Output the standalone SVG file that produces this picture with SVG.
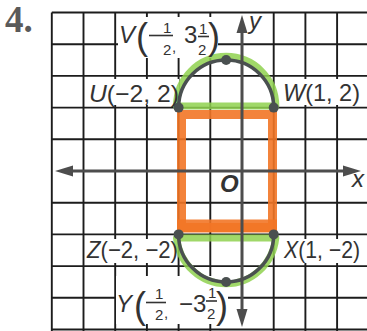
<svg xmlns="http://www.w3.org/2000/svg" width="367" height="331" viewBox="0 0 367 331">
<style>
.grid{stroke:#1c1c1c;stroke-width:1.9;fill:none}
.box{fill:#fff}
.lbl{font-family:"Liberation Sans",Arial,sans-serif;font-size:24px;fill:#333}
.it{font-style:italic}
.fr{font-family:"Liberation Sans",Arial,sans-serif;font-size:15px;fill:#333}
.bar{stroke:#333;stroke-width:1.6}
.paren{font-family:"Liberation Sans",Arial,sans-serif;font-size:36px;fill:#333}
.axis{stroke:#4d4d4d;stroke-width:3;fill:none}
.arrow{fill:#4d4d4d}
.green{stroke:#8fd14f;stroke-width:7;fill:none;opacity:0.85;stroke-linejoin:round}
.orange{stroke:#f27526;fill:none;opacity:0.9}
.arc{stroke:#4a5050;stroke-width:3.5;fill:none}
.dot{fill:#4a5050}
.title{font-family:"Liberation Serif","DejaVu Serif",serif;font-weight:bold;font-size:37px;fill:#5a5a5a}
</style>
<rect width="367" height="331" fill="#fff"/>
<g id="title"><text class="title" x="5" y="32">4.</text></g>
<g id="grid">
<path class="grid" d="M51.8 12.5V331M83.5 12.5V331M115.2 12.5V331M146.9 12.5V331M178.6 12.5V331M210.3 12.5V331M273.7 12.5V331M305.4 12.5V331M337.1 12.5V331"/>
<path class="grid" d="M51.8 12.5H367M51.8 44.2H367M51.8 75.9H367M51.8 107.6H367M51.8 139.3H367M51.8 202.7H367M51.8 234.4H367M51.8 266.1H367M51.8 297.8H367M51.8 329.5H367"/>
</g>
<g id="label-boxes">
<rect class="box" x="118" y="17" width="100" height="41"/>
<rect class="box" x="86" y="79" width="93" height="26"/>
<rect class="box" x="280" y="79" width="83" height="26"/>
<rect class="box" x="85" y="239" width="92" height="24"/>
<rect class="box" x="282" y="239" width="82" height="24"/>
<rect class="box" x="116" y="276" width="112" height="48"/>
</g>
<g id="rectangle">
<rect class="orange" x="181.5" y="114.5" width="91" height="113" stroke-width="9"/>
<line class="orange" x1="177" y1="226" x2="277" y2="226" stroke-width="13"/>
</g>
<g id="semicircles">
<path class="green" d="M176.5 106 A49.5 49.5 0 0 1 275.8 106 Z"/>
<path class="green" d="M176.5 238 A50 52 0 0 0 275.8 238 Z"/>
<path class="arc" d="M178.6 107.6 A47.55 47.55 0 0 1 273.7 107.6"/>
<path class="arc" d="M178.6 234.4 A47.55 47.55 0 0 0 273.7 234.4"/>
</g>
<g id="connectors">
<line class="axis" x1="68" y1="171" x2="348" y2="171"/>
<polygon class="arrow" points="55,171 73,165.5 73,176.5"/>
<polygon class="arrow" points="361,171 343,165.5 343,176.5"/>
<line class="axis" x1="242" y1="28" x2="242" y2="314"/>
<polygon class="arrow" points="242,15 236.5,33 247.5,33"/>
<polygon class="arrow" points="242,327 236.5,309 247.5,309"/>
<text x="249" y="29" class="lbl it" font-size="22">y</text>
<text x="352" y="187" class="lbl it" font-size="20">x</text>
<text x="220" y="192" class="lbl it" font-size="17" font-weight="bold">O</text>
</g>
<g id="U"><circle class="dot" cx="178.6" cy="107.6" r="5"/>
<text class="lbl" x="89" y="102" textLength="90" lengthAdjust="spacingAndGlyphs"><tspan class="it">U</tspan>(−2, 2)</text></g>
<g id="W"><circle class="dot" cx="273.7" cy="107.6" r="5"/>
<text class="lbl" x="283" y="101" textLength="77" lengthAdjust="spacingAndGlyphs"><tspan class="it">W</tspan>(1, 2)</text></g>
<g id="Z"><circle class="dot" cx="178.6" cy="234.4" r="5"/>
<text class="lbl" x="87" y="258" textLength="91" lengthAdjust="spacingAndGlyphs"><tspan class="it">Z</tspan>(−2, −2)</text></g>
<g id="X"><circle class="dot" cx="273.7" cy="234.4" r="5"/>
<text class="lbl" x="284" y="258" textLength="76" lengthAdjust="spacingAndGlyphs"><tspan class="it">X</tspan>(1, −2)</text></g>
<g id="V"><circle class="dot" cx="226.15" cy="60" r="5"/>
<text class="lbl it" x="119" y="43">V</text>
<text class="paren" x="136" y="49">(</text>
<line class="bar" x1="149" y1="35.5" x2="173" y2="35.5"/>
<text class="fr" x="163" y="33">1</text>
<text class="fr" x="163" y="55">2</text>
<text class="fr" x="172" y="52">,</text>
<text class="lbl" x="184" y="43">3</text>
<line class="bar" x1="198" y1="36.5" x2="209" y2="36.5"/>
<text class="fr" x="199" y="34">1</text>
<text class="fr" x="198" y="55">2</text>
<text class="paren" x="208" y="49">)</text>
</g>
<g id="Y"><circle class="dot" cx="226.15" cy="282" r="5"/>
<text class="lbl it" x="116" y="312">Y</text>
<text class="paren" x="134" y="318">(</text>
<line class="bar" x1="146" y1="302.5" x2="166" y2="302.5"/>
<text class="fr" x="155" y="299">1</text>
<text class="fr" x="155" y="320">2</text>
<text class="fr" x="164" y="318">,</text>
<text class="lbl" x="179" y="312">−3</text>
<line class="bar" x1="206" y1="301" x2="217" y2="301"/>
<text class="fr" x="208" y="298">1</text>
<text class="fr" x="207" y="319">2</text>
<text class="paren" x="216" y="318">)</text>
</g>
</svg>
